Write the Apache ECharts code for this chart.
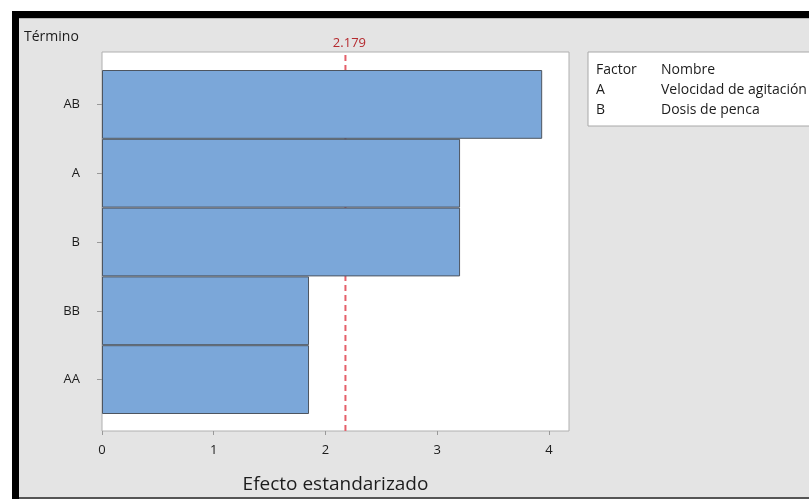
<!DOCTYPE html>
<html>
<head>
<meta charset="utf-8">
<script src="https://cdn.jsdelivr.net/npm/echarts@6/dist/echarts.min.js"></script>
<style>
  html, body { margin: 0; padding: 0; background: #ffffff; }
  #chart { width: 809px; height: 499px; }
</style>
</head>
<body>
<div id="chart"></div>
<script>
// Pareto-style chart of standardized effects
const terms = ['AB', 'A', 'B', 'BB', 'AA'];
const effects = [3.94, 3.205, 3.205, 1.853, 1.853];
const criticalValue = 2.179;
const xTicks = [0, 1, 2, 3, 4];
const factorHeader = ['Factor', 'Nombre'];
const factorRows = [['A', 'Velocidad de agitación'], ['B', 'Dosis de penca']];

const FONT = '"Open Sans", "Noto Sans", sans-serif';
const TEXT = '#1c1c1c';
const xMin = 0, xMax = 4.18;

const chart = echarts.init(document.getElementById('chart'));

const legendChildren = [
  { type: 'rect', shape: { x: 0, y: 0, width: 240, height: 74 },
    style: { fill: '#ffffff', stroke: '#a8a8a8', lineWidth: 1 } },
  { type: 'text', x: 8, y: 11, style: { text: factorHeader[0], font: '14px ' + FONT, fill: TEXT } },
  { type: 'text', x: 73, y: 11, style: { text: factorHeader[1], font: '14px ' + FONT, fill: TEXT } }
];
factorRows.forEach((row, i) => {
  legendChildren.push({ type: 'text', x: 8, y: 31 + i * 20, style: { text: row[0], font: '14px ' + FONT, fill: TEXT } });
  legendChildren.push({ type: 'text', x: 73, y: 31 + i * 20, style: { text: row[1], font: '14px ' + FONT, fill: TEXT } });
});

// critical-value reference line spans the full height of the plot frame (y 0..1)
const critLine = [[criticalValue, 0], [criticalValue, 1]];

chart.setOption({
  animation: false,
  backgroundColor: '#ffffff',
  graphic: [
    // page background and frame bands
    { type: 'rect', z: -10, shape: { x: 12, y: 11, width: 797, height: 488 }, style: { fill: '#e4e4e4' } },
    { type: 'rect', z: -9, shape: { x: 12, y: 11, width: 797, height: 7 }, style: { fill: '#000000' } },
    { type: 'rect', z: -9, shape: { x: 12, y: 11, width: 7, height: 488 }, style: { fill: '#000000' } },
    { type: 'rect', z: -9, shape: { x: 19, y: 18, width: 790, height: 1 }, style: { fill: '#b8b8b8' } },
    { type: 'rect', z: -9, shape: { x: 19, y: 497, width: 790, height: 2 }, style: { fill: '#555555' } },
    { type: 'text', x: 24, y: 30, style: { text: 'Término', font: '14px ' + FONT, fill: TEXT } },
    { type: 'group', x: 588, y: 52, children: legendChildren }
  ],
  grid: [
    { left: 102, top: 52, width: 467, bottom: 68, show: true,
      backgroundColor: '#ffffff', borderColor: '#b0b0b0', borderWidth: 1, z: 0 },
    { left: 102, top: 70, width: 467, bottom: 85 }
  ],
  xAxis: [
    { type: 'value', gridIndex: 0, min: xMin, max: xMax, interval: 1,
      splitLine: { show: false },
      axisLine: { show: false },
      axisTick: { show: true, length: 4, lineStyle: { color: '#999' }, customValues: xTicks },
      axisLabel: { color: TEXT, fontSize: 13, fontFamily: FONT, margin: 13, customValues: xTicks },
      name: 'Efecto estandarizado', nameLocation: 'middle', nameGap: 44,
      nameTextStyle: { fontSize: 19, fontFamily: FONT, color: TEXT } },
    { type: 'value', gridIndex: 1, min: xMin, max: xMax, show: false }
  ],
  yAxis: [
    { type: 'value', gridIndex: 0, min: 0, max: 1, show: false },
    { type: 'category', gridIndex: 1, data: terms, inverse: true,
      axisLine: { show: false },
      axisTick: { show: true, alignWithLabel: true, length: 5, lineStyle: { color: '#999' } },
      axisLabel: { color: TEXT, fontSize: 13, fontFamily: FONT, margin: 22 } }
  ],
  series: [
    // dashed line sits beneath the bars
    { type: 'line', xAxisIndex: 0, yAxisIndex: 0, data: critLine, silent: true,
      showSymbol: false, symbol: 'none', z: 1,
      lineStyle: { color: '#e5606a', type: [6, 4], width: 2 },
      endLabel: { show: true, formatter: String(criticalValue), color: '#b52a2f',
                  fontSize: 13, fontFamily: FONT, align: 'center', verticalAlign: 'bottom',
                  offset: [-4, -2] } },
    { type: 'bar', xAxisIndex: 1, yAxisIndex: 1, data: effects, z: 3,
      barWidth: '100%', barCategoryGap: 0,
      itemStyle: { color: '#7ba7d9', borderColor: '#4d5560', borderWidth: 1 } }
  ]
});
</script>
</body>
</html>
